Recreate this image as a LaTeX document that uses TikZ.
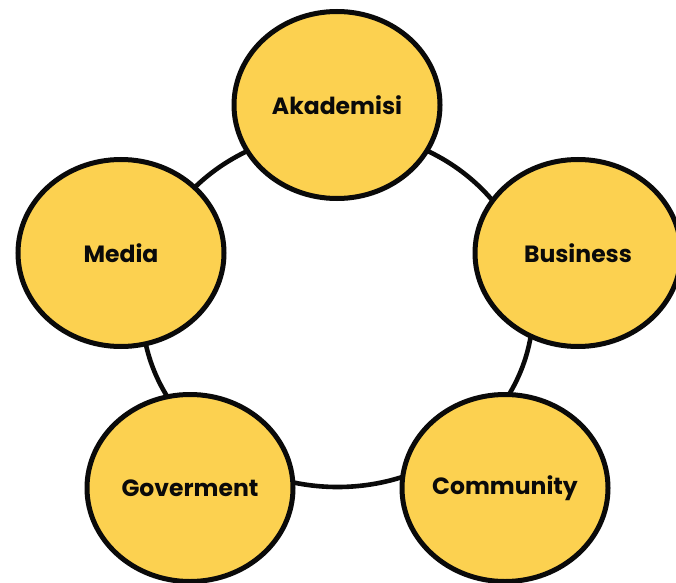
\documentclass[tikz,border=0pt]{standalone}
\usepackage{fontspec}
\setmainfont{Poppins}
\usetikzlibrary{shapes.geometric}
\definecolor{petal}{RGB}{252,209,80}
\definecolor{ink}{RGB}{10,10,10}
\begin{document}
\begin{tikzpicture}[x=1pt,y=1pt,
  petalnode/.style={ellipse, draw=ink, fill=petal, line width=5pt,
    minimum width=206pt, minimum height=187pt, inner sep=0pt,
    font=\fontsize{23.5}{27}\selectfont\bfseries, text=ink}]
\useasboundingbox (0,0) rectangle (676,582);
\clip (0,0) rectangle (676,582);
\fill[white] (0,0) rectangle (676,582);
% ring
\coordinate (ringc) at (337.5,273);
\draw[ink, line width=4.6pt] (ringc) ellipse [x radius=195.5, y radius=178];
% nodes
\node[petalnode] (aka) at (337,477) {Akademisi};
\node[petalnode] (med) at (121,329) {Media};
\node[petalnode] (bus) at (578,329) {Business};
\node[petalnode] (gov) at (190,94) {Goverment};
\node[petalnode] (com) at (505,94) {Community};
\end{tikzpicture}
\end{document}
